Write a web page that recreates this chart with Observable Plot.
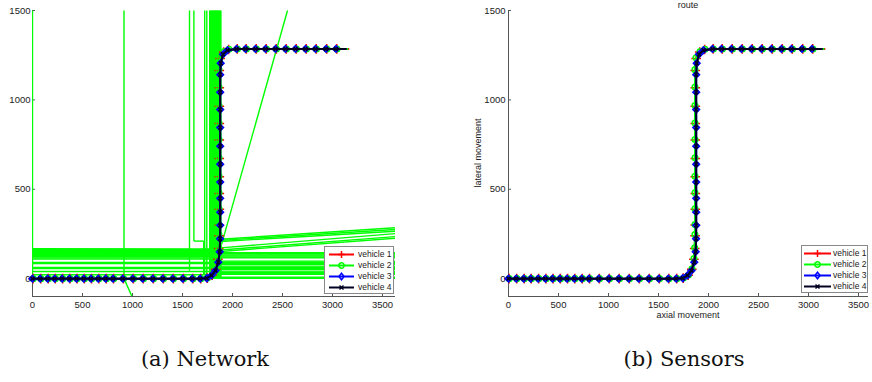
<!DOCTYPE html>
<html><head><meta charset="utf-8">
<script src="https://cdn.jsdelivr.net/npm/d3@7"></script>
<script src="https://cdn.jsdelivr.net/npm/@observablehq/plot@0.6"></script>
<style>
html,body{margin:0;padding:0;background:#fff;}
body{width:872px;height:382px;position:relative;overflow:hidden;font-family:"Liberation Sans",Arial,sans-serif;}
.panel{position:absolute;top:0;}
.caption{position:absolute;top:347px;font-family:"DejaVu Serif","Liberation Serif",serif;font-size:21px;color:#111;white-space:nowrap;transform:translateX(-50%);}
.lbl{position:absolute;font-size:9px;color:#222;white-space:nowrap;line-height:10px;}
.legend{position:absolute;border:1px solid #888;background:#fff;box-sizing:border-box;}
.legend .row{position:absolute;left:0;height:11px;font-size:8.5px;color:#222;line-height:11px;white-space:nowrap;}
.legend svg{position:absolute;top:0;}
</style></head>
<body>
<div id="left" class="panel" style="left:0px"></div>
<div id="right" class="panel" style="left:460px"></div>
<div class="lbl" style="left:688px;top:0px;transform:translateX(-50%)">route</div>
<div class="lbl" style="left:688px;top:310px;transform:translateX(-50%)">axial movement</div>
<div class="lbl" style="left:478px;top:153px;transform:translate(-50%,-50%) rotate(-90deg)">lateral movement</div>
<div class="caption" style="left:205px">(a) Network</div>
<div class="caption" style="left:684px">(b) Sensors</div>
<script>
// ---- data ----
const xTicks = [0, 500, 1000, 1500, 2000, 2500, 3000, 3500];
const yTicks = [0, 500, 1000, 1500];
const vehicleNames = ["vehicle 1", "vehicle 2", "vehicle 3", "vehicle 4"];
const vehicleColors = ["#ff0000", "#00ff00", "#0000ff", "#000020"];
const vehicleSymbols = ["plus", "circle", "diamond2", "times"];

const v1x = [6,83,158,228,302,375,446,519,591,664,738,811,909,1009,1108,1209,1309,1409,1509,1604,1683,1748,1797,1833,1854,1862,1866,1868,1868,1868,1868,1868,1868,1868,1868,1868,1868,1877,1912,1962,2048,2138,2238,2338,2438,2538,2638,2738,2838,2943,3043];
const v1y = [0,0,0,0,0,0,0,0,0,0,0,0,0,0,0,0,0,0,0,0,0,3,19,52,108,168,240,300,388,476,570,672,775,868,965,1068,1165,1232,1268,1282,1285,1285,1285,1285,1285,1285,1285,1285,1285,1285,1285];
const v2x = [8,85,160,230,304,377,448,521,593,666,740,813,911,1011,1110,1211,1311,1411,1511,1606,1685,1750,1800,1835,1855,1862,1864,1865,1865,1865,1865,1865,1865,1865,1865,1865,1865,1875,1915,1965,2050,2140,2240,2340,2440,2540,2640,2740,2840,2945,3045];
const v2y = [0,0,0,0,0,0,0,0,0,0,0,0,0,0,0,0,0,0,0,0,0,3,20,55,112,173,247,303,391,480,573,676,778,871,968,1072,1169,1235,1270,1283,1285,1285,1285,1285,1285,1285,1285,1285,1285,1285,1285];
const v3x = [0,77,152,222,296,369,440,513,585,658,732,805,903,1003,1102,1203,1303,1403,1503,1598,1677,1743,1790,1830,1858,1872,1876,1877,1877,1877,1877,1877,1877,1877,1877,1877,1877,1882,1905,1950,2040,2130,2230,2330,2430,2530,2630,2730,2830,2935,3035];
const v3y = [0,0,0,0,0,0,0,0,0,0,0,0,0,0,0,0,0,0,0,0,0,2,18,45,92,150,223,298,372,449,540,640,741,845,946,1043,1141,1205,1255,1278,1285,1285,1285,1285,1285,1285,1285,1285,1285,1285,1285];
const v4x = [0,77,152,222,296,369,440,513,585,658,732,805,903,1003,1102,1203,1303,1403,1503,1598,1677,1743,1790,1830,1858,1872,1876,1877,1877,1877,1877,1877,1877,1877,1877,1877,1877,1882,1905,1950,2040,2130,2230,2330,2430,2530,2630,2730,2830,2935,3035];
const v4y = [0,0,0,0,0,0,0,0,0,0,0,0,0,0,0,0,0,0,0,0,0,2,18,45,92,150,223,298,372,449,540,640,741,845,946,1043,1141,1205,1255,1278,1285,1285,1285,1285,1285,1285,1285,1285,1285,1285,1285];
const lineEndX = [3160, 3150, 3130, 3135];
const lineEndY = [1285, 1285, 1285, 1285];

// network roads (x1, y1, x2, y2)
const netVertical = [
  [0,0,0,1500],[915,0,915,1500],[915,0,995,-100],[1570,45,1570,1500],[1614,210,1614,1500],[1614,210,1712,210],
  [1712,20,1712,210],[1722,20,1722,1500],[1743,20,1743,1500],
  [1772,0,1772,1500],[1779,0,1779,1500],[1786,0,1786,1500],[1793,0,1793,1500],[1800,0,1800,1500],[1807,0,1807,1500],
  [1814,0,1814,1500],[1821,0,1821,1500],[1828,0,1828,1500],[1835,0,1835,1500],[1842,0,1842,1500],[1849,0,1849,1500],
  [1856,0,1856,1500],[1863,0,1863,1500],[1870,0,1870,1500],[1877,0,1877,1500],[1884,0,1884,1500]
];
const netLeftRoads = [
  [0,168,1780,166],[0,162,1780,162],[0,157,1780,156],[0,152,1780,150],[0,146,1780,145],[0,140,1780,140],
  [0,134,1780,134],[0,128,1780,128],[0,122,1780,122],[0,116,1780,116],[0,110,1780,110],
  [0,90,1780,90],[0,85,1780,85],[0,62,1780,62],[0,57,1780,57],[0,40,1780,40],[0,22,1780,22]
];
const netRightRoads = [
  [1880,220,3630,285],[1880,214,3630,275],[1880,208,3630,265],[1880,160,3630,235],[1880,152,3630,226],[1880,172,3630,252],
  [1880,145,3630,145],[1880,139,3630,139],[1880,133,3630,133],[1880,127,3630,127],[1880,121,3630,121],[1880,116,3630,116],
  [1880,98,3630,98],[1880,92,3630,92],[1880,86,3630,86],[1880,80,3630,80],
  [1880,70,3630,70],[1880,64,3630,64],[1880,58,3630,58],[1880,52,3630,52],
  [1880,42,3630,42],[1880,36,3630,36],[1880,30,3630,30],[1880,24,3630,24],[1880,8,3630,8],[1880,2,3630,2]
];
const netDiagonal = [[1890,190,2550,1500]];

// ---- helpers ----
const vxs = [v1x, v2x, v3x, v4x];
const vys = [v1y, v2y, v3y, v4y];
const symR = {plus: 3.2, circle: 2.8, diamond2: 2.7, times: 1.9};

function vehicleMarks() {
  const marks = [];
  vxs.forEach((xs, i) => {
    const pts = xs.map((x, j) => ({x, y: vys[i][j]}));
    const path = pts.concat([{x: lineEndX[i], y: lineEndY[i]}]);
    marks.push(Plot.line(path, {x: "x", y: "y", stroke: vehicleColors[i], strokeWidth: 2}));
    marks.push(Plot.dot(pts, {x: "x", y: "y", symbol: vehicleSymbols[i], r: symR[vehicleSymbols[i]],
      stroke: vehicleColors[i], fill: "none", strokeWidth: vehicleSymbols[i] === "diamond2" ? 2 : 1.5}));
  });
  return marks;
}
function link(data) {
  return Plot.link(data, {x1: d => d[0], y1: d => d[1], x2: d => d[2], y2: d => d[3],
    stroke: "#00ff00", strokeWidth: 1.4, clip: true});
}
function axes(yPad) {
  return [
    Plot.ruleX([0], {stroke: "#555", strokeWidth: 1}),
    Plot.ruleY([-100], {stroke: "#555", strokeWidth: 1}),
    Plot.axisX(xTicks, {anchor: "bottom", tickSize: -3, tickPadding: 8, tickFormat: "d", stroke: "#555", fill: "#222", label: null}),
    Plot.axisY(yTicks, {anchor: "left", tickSize: -3, tickPadding: yPad, tickFormat: "d", stroke: "#555", fill: "#222", label: null})
  ];
}
const style = {fontFamily: "'Liberation Sans', Arial, sans-serif", fontSize: "9.5px", background: "white", color: "#222", overflow: "visible"};

const left = Plot.plot({
  width: 400, height: 320, marginLeft: 32, marginRight: 5, marginTop: 10, marginBottom: 24,
  style,
  x: {domain: [0, 3630], label: null},
  y: {domain: [-100, 1500], label: null},
  marks: [
    ...axes(5),
    link(netVertical), link(netLeftRoads), link(netRightRoads), link(netDiagonal),
    ...vehicleMarks()
  ]
});
document.getElementById("left").appendChild(left);

const right = Plot.plot({
  width: 412, height: 320, marginLeft: 48, marginRight: 4, marginTop: 10, marginBottom: 24,
  style,
  x: {domain: [0, 3600], label: null},
  y: {domain: [-100, 1500], label: null},
  marks: [
    ...axes(6),
    ...vehicleMarks()
  ]
});
document.getElementById("right").appendChild(right);

// ---- legends ----
const symbolPaths = {
  plus: "M-3.5,0H3.5M0,-3.5V3.5",
  circle: "M2.7,0A2.7,2.7,0,1,1,-2.7,0A2.7,2.7,0,1,1,2.7,0",
  diamond2: "M0,-3.2L2.6,0L0,3.2L-2.6,0Z",
  times: "M-2,-2L2,2M-2,2L2,-2"
};
function legend(left, top, w, lineX0, lineX1, textX) {
  const box = document.createElement("div");
  box.className = "legend";
  box.style.cssText = `left:${left}px;top:${top}px;width:${w}px;height:48px;`;
  vehicleNames.forEach((name, i) => {
    const row = document.createElement("div");
    row.className = "row";
    row.style.top = (2 + i * 11) + "px";
    row.style.width = w + "px";
    const mid = (lineX0 + lineX1) / 2;
    row.innerHTML = `<svg width="${w}" height="11"><line x1="${lineX0}" x2="${lineX1}" y1="5.5" y2="5.5" stroke="${vehicleColors[i]}" stroke-width="2"/>` +
      `<path transform="translate(${mid},5.5)" d="${symbolPaths[vehicleSymbols[i]]}" fill="none" stroke="${vehicleColors[i]}" stroke-width="1.5"/></svg>` +
      `<span style="position:absolute;left:${textX}px;top:0">${name}</span>`;
    box.appendChild(row);
  });
  document.body.appendChild(box);
}
legend(324, 246, 70, 4, 29, 33);
legend(801, 245, 67, 2, 29, 31);
</script>
</body></html>
